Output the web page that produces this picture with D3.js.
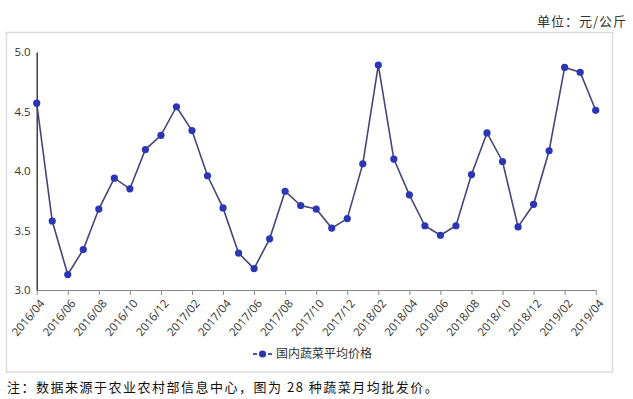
<!DOCTYPE html>
<html>
<head>
<meta charset="utf-8">
<script src="https://cdn.jsdelivr.net/npm/d3@7"></script>
<style>
  html, body { margin: 0; padding: 0; background: #fff; }
  svg { display: block; }
</style>
</head>
<body>
<svg id="chart" width="633" height="399"></svg>
<script>
const months = ["2016/04","2016/05","2016/06","2016/07","2016/08","2016/09","2016/10","2016/11","2016/12",
  "2017/01","2017/02","2017/03","2017/04","2017/05","2017/06","2017/07","2017/08","2017/09","2017/10","2017/11","2017/12",
  "2018/01","2018/02","2018/03","2018/04","2018/05","2018/06","2018/07","2018/08","2018/09","2018/10","2018/11","2018/12",
  "2019/01","2019/02","2019/03","2019/04"];
const prices = [4.57,3.58,3.13,3.34,3.68,3.94,3.85,4.18,4.30,4.54,4.34,3.96,3.69,3.31,3.18,3.43,3.83,3.71,3.68,3.52,3.60,
  4.06,4.89,4.10,3.80,3.54,3.46,3.54,3.97,4.32,4.08,3.53,3.72,4.17,4.87,4.83,4.51];
const tickLabels = ["2016/04","2016/06","2016/08","2016/10","2016/12","2017/02","2017/04","2017/06","2017/08","2017/10",
  "2017/12","2018/02","2018/04","2018/06","2018/08","2018/10","2018/12","2019/02","2019/04"];
const yTicks = [3.0, 3.5, 4.0, 4.5, 5.0];
const seriesName = "国内蔬菜平均价格";
const unitText = "单位：元/公斤";
const noteText = "注：数据来源于农业农村部信息中心，图为 28 种蔬菜月均批发价。";

const svg = d3.select("#chart");
const plotLeft = 36.7, plotRight = 595.7, plotTop = 52, plotBottom = 290;

// frame
svg.append("rect").attr("x", 6.5).attr("y", 32.5).attr("width", 606).attr("height", 339.5)
  .attr("fill", "none").attr("stroke", "#dcdcdc").attr("stroke-width", 1.5);

// unit
svg.append("text").attr("x", 627).attr("y", 26).attr("text-anchor", "end")
  .attr("font-family", "'Noto Sans CJK SC', sans-serif").attr("font-size", 13)
  .attr("letter-spacing", 1).attr("fill", "#333").text(unitText);

const x = d3.scalePoint().domain(months).range([plotLeft, plotRight]);
const y = d3.scaleLinear().domain([3, 5]).range([plotBottom, plotTop]);

// x axis
const xAxis = d3.axisBottom(x).tickValues(tickLabels).tickSize(5).tickSizeOuter(0).tickPadding(4);
const gx = svg.append("g").attr("transform", `translate(0,${plotBottom})`).call(xAxis);
gx.select(".domain").attr("stroke", "#888").attr("stroke-width", 1.2);
gx.selectAll(".tick line").attr("stroke", "#888");
gx.selectAll(".tick text")
  .attr("font-family", "'Open Sans', sans-serif").attr("font-size", 11.5).attr("fill", "#333")
  .attr("text-anchor", "end")
  .attr("transform", "translate(5,11) rotate(-50)")
  .attr("dy", "0.35em").attr("y", 0).attr("x", 0);

// y axis
const yAxis = d3.axisLeft(y).tickValues(yTicks).tickFormat(d3.format(".1f")).tickSize(0).tickPadding(6);
const gy = svg.append("g").attr("transform", `translate(${plotLeft},0)`).call(yAxis);
gy.select(".domain").attr("stroke", "#222").attr("stroke-width", 1.3);
gy.selectAll(".tick text").attr("font-family", "'Open Sans', sans-serif").attr("font-size", 11.5).attr("fill", "#333");

// line
const line = d3.line().x((d, i) => x(months[i])).y(d => y(d));
svg.append("path").datum(prices).attr("d", line)
  .attr("fill", "none").attr("stroke", "#46467a").attr("stroke-width", 1.6);

svg.append("g").selectAll("circle").data(prices).join("circle")
  .attr("cx", (d, i) => x(months[i])).attr("cy", d => y(d)).attr("r", 3.6)
  .attr("fill", "#2b36b5");

// legend
const ly = 354;
svg.append("line").attr("x1", 253).attr("x2", 272).attr("y1", ly).attr("y2", ly)
  .attr("stroke", "#4a56c0").attr("stroke-width", 2).attr("stroke-dasharray", "4,11");
svg.append("circle").attr("cx", 262.5).attr("cy", ly).attr("r", 3.6).attr("fill", "#2b36b5");
svg.append("text").attr("x", 276).attr("y", ly).attr("dy", "0.35em")
  .attr("font-family", "'Noto Sans CJK SC', sans-serif").attr("font-size", 12).attr("fill", "#333")
  .text(seriesName);

// note
svg.append("text").attr("x", 7).attr("y", 392)
  .attr("font-family", "'Noto Sans CJK SC', sans-serif").attr("font-size", 13)
  .attr("letter-spacing", 1.5).attr("fill", "#111").text(noteText);
</script>
</body>
</html>
